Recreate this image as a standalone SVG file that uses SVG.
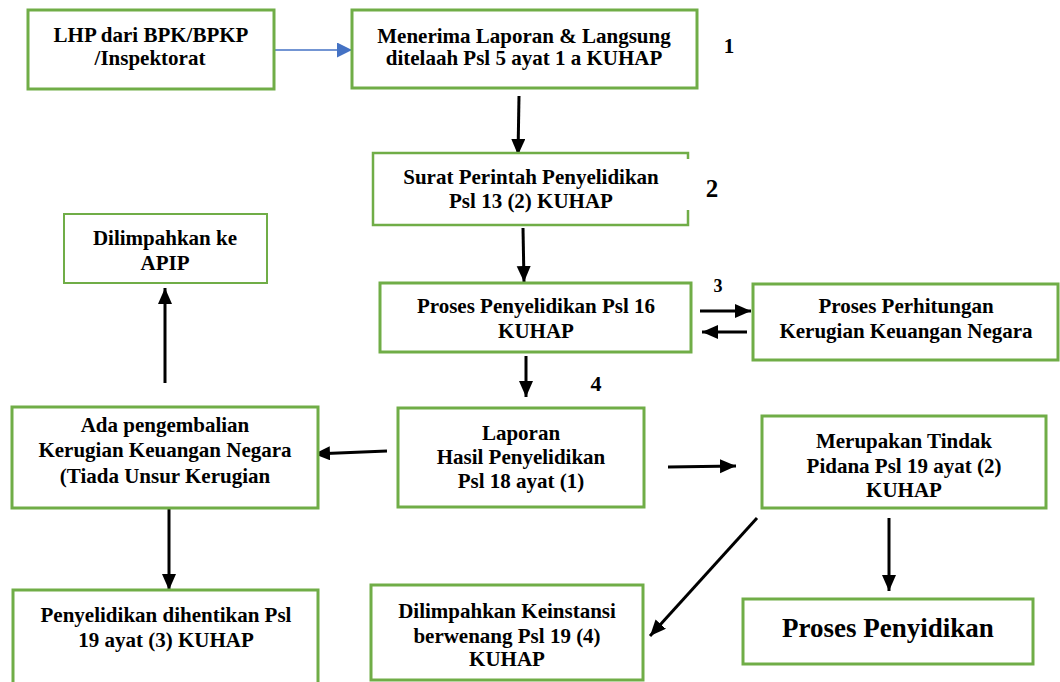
<svg xmlns="http://www.w3.org/2000/svg" width="1060" height="682" viewBox="0 0 1060 682">
<style>
.box{fill:#fff;stroke:#70ad47;stroke-width:3}
.t{font-size:21px;font-weight:bold;fill:#000;text-anchor:middle}
.n{font-weight:bold;fill:#000;text-anchor:middle}
.c{fill:none;stroke:#000;stroke-width:3}
.cb{fill:none;stroke:#4472c4;stroke-width:1.5}
</style>
<defs>
<marker id="ah" markerUnits="userSpaceOnUse" markerWidth="17" markerHeight="15" refX="16" refY="7" orient="auto" viewBox="0 0 17 15"><path d="M0,0 L16,7 L0,14 z" fill="#000"/></marker>
<marker id="ahb" markerUnits="userSpaceOnUse" markerWidth="16" markerHeight="16" refX="15" refY="7.5" orient="auto" viewBox="0 0 16 16"><path d="M0,0 L15,7.5 L0,15 z" fill="#4472c4"/></marker>
</defs>
<rect width="1060" height="682" fill="#fff"/>
<g id="connectors">
<line class="cb" x1="275" y1="50" x2="352" y2="50" marker-end="url(#ahb)"/>
<line class="c" x1="519" y1="96" x2="518" y2="155" marker-end="url(#ah)"/>
<line class="c" x1="523" y1="228" x2="524" y2="282" marker-end="url(#ah)"/>
<line class="c" x1="700" y1="311" x2="751" y2="311" marker-end="url(#ah)"/>
<line class="c" x1="747" y1="332" x2="702" y2="332" marker-end="url(#ah)"/>
<line class="c" x1="526" y1="356" x2="526" y2="397" marker-end="url(#ah)"/>
<line class="c" x1="387" y1="451" x2="314" y2="454" marker-end="url(#ah)"/>
<line class="c" x1="165" y1="383" x2="165" y2="288" marker-end="url(#ah)"/>
<line class="c" x1="169" y1="505" x2="169" y2="590" marker-end="url(#ah)"/>
<line class="c" x1="668" y1="467" x2="736" y2="466" marker-end="url(#ah)"/>
<line class="c" x1="757" y1="518" x2="650" y2="636" marker-end="url(#ah)"/>
<line class="c" x1="889" y1="518" x2="889" y2="591" marker-end="url(#ah)"/>
</g>
<g font-family="Liberation Serif, Times New Roman, serif">
<g id="n1">
<rect class="box" x="28" y="10" width="246" height="79"/>
<text class="t" x="151" y="42">LHP dari BPK/BPKP</text>
<text class="t" x="150" y="65">/Inspektorat</text>
</g>
<g id="n2">
<rect class="box" x="352" y="10" width="345" height="78"/>
<text class="t" x="524" y="43">Menerima Laporan &amp; Langsung</text>
<text class="t" x="524" y="65">ditelaah Psl 5 ayat 1 a KUHAP</text>
</g>
<text class="n" x="729" y="53" style="font-size:21px">1</text>
<g id="n3">
<path d="M688,159 V153 H373 V225 H688 V210" fill="#fff" stroke="#70ad47" stroke-width="2.5"/>
<text class="t" x="531" y="184">Surat Perintah Penyelidikan</text>
<text class="t" x="531" y="208">Psl 13 (2) KUHAP</text>
</g>
<text class="n" x="712" y="197" style="font-size:25px">2</text>
<g id="n4">
<rect class="box" x="380" y="283" width="311" height="69"/>
<text class="t" x="536" y="313">Proses Penyelidikan Psl 16</text>
<text class="t" x="536" y="338">KUHAP</text>
</g>
<text class="n" x="718" y="292" style="font-size:18px">3</text>
<g id="n5">
<rect class="box" x="753" y="284" width="305" height="76"/>
<text class="t" x="906" y="313">Proses Perhitungan</text>
<text class="t" x="906" y="338">Kerugian Keuangan Negara</text>
</g>
<text class="n" x="596" y="391" style="font-size:22px">4</text>
<g id="n6">
<rect class="box" x="398" y="408" width="246" height="99"/>
<text class="t" x="521" y="440">Laporan</text>
<text class="t" x="521" y="464">Hasil Penyelidikan</text>
<text class="t" x="521" y="488">Psl 18 ayat (1)</text>
</g>
<g id="n7">
<rect class="box" x="12" y="407" width="306" height="101"/>
<text class="t" x="165" y="432">Ada pengembalian</text>
<text class="t" x="165" y="457">Kerugian Keuangan Negara</text>
<text class="t" x="165" y="483">(Tiada Unsur Kerugian</text>
</g>
<g id="n8">
<rect class="box" x="64" y="214" width="203" height="69" style="stroke-width:2"/>
<text class="t" x="165" y="245">Dilimpahkan ke</text>
<text class="t" x="165" y="270">APIP</text>
</g>
<g id="n9">
<rect class="box" x="13" y="590" width="305" height="100"/>
<text class="t" x="166" y="622">Penyelidikan dihentikan Psl</text>
<text class="t" x="166" y="647">19 ayat (3) KUHAP</text>
</g>
<g id="n10">
<rect class="box" x="762" y="416" width="284" height="92"/>
<text class="t" x="904" y="448">Merupakan Tindak</text>
<text class="t" x="904" y="473">Pidana Psl 19 ayat (2)</text>
<text class="t" x="904" y="497">KUHAP</text>
</g>
<g id="n11">
<rect class="box" x="371" y="585" width="272" height="95"/>
<text class="t" x="507" y="618">Dilimpahkan Keinstansi</text>
<text class="t" x="507" y="643">berwenang Psl 19 (4)</text>
<text class="t" x="507" y="666">KUHAP</text>
</g>
<g id="n12">
<rect class="box" x="743" y="599" width="290" height="65"/>
<text class="t" x="888" y="637" style="font-size:27px">Proses Penyidikan</text>
</g>
</g>
</svg>
